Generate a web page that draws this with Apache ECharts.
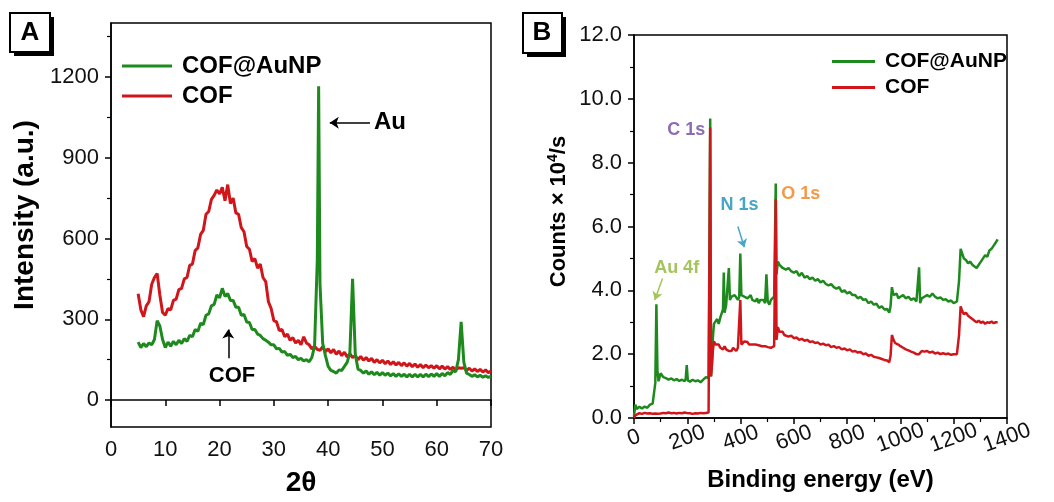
<!DOCTYPE html>
<html>
<head>
<meta charset="utf-8">
<script src="https://cdn.jsdelivr.net/npm/echarts@6/dist/echarts.min.js"></script>
<style>
  html, body { margin: 0; padding: 0; background: #fff; }
  #chart { width: 1054px; height: 502px; }
</style>
</head>
<body>
<div id="chart"></div>
<script>
// panel A: XRD, 2theta vs intensity
const theta = [
  5, 5.5, 6, 6.5, 7, 7.5, 8, 8.5, 9, 9.5,
  10, 10.5, 11, 11.5, 12, 12.5, 13, 13.5, 14, 14.5,
  15, 15.5, 16, 16.5, 17, 17.5, 18, 18.5, 19, 19.5,
  20, 20.5, 21, 21.5, 22, 22.5, 23, 23.5, 24, 24.5,
  25, 25.5, 26, 26.5, 27, 27.5, 28, 28.5, 29, 29.5,
  30, 30.5, 31, 31.5, 32, 32.5, 33, 33.5, 34, 34.5,
  35, 35.5, 36, 36.5, 37, 37.5, 38, 38.25, 38.5, 39, 39.5,
  40, 40.5, 41, 41.5, 42, 42.5, 43, 43.5, 44, 44.5,
  45, 45.5, 46, 46.5, 47, 47.5, 48, 48.5, 49, 49.5,
  50, 50.5, 51, 51.5, 52, 52.5, 53, 53.5, 54, 54.5,
  55, 55.5, 56, 56.5, 57, 57.5, 58, 58.5, 59, 59.5,
  60, 60.5, 61, 61.5, 62, 62.5, 63, 63.5, 64, 64.5,
  65, 65.5, 66, 66.5, 67, 67.5, 68, 68.5, 69, 69.5,
  70
]
const xrdCOF = [
  395, 335, 310, 350, 365, 430, 455, 470, 390, 325,
  315, 340, 335, 370, 375, 410, 415, 450, 455, 500,
  505, 555, 565, 615, 630, 690, 700, 745, 760, 780,
  765, 790, 740, 800, 730, 750, 695, 690, 640, 625,
  570, 560, 515, 525, 490, 505, 455, 440, 365, 340,
  295, 290, 258, 262, 235, 245, 222, 232, 212, 222,
  205, 235, 212, 205, 190, 200, 188, 195, 185, 198, 180,
  190, 175, 188, 170, 182, 165, 178, 160, 172, 158,
  165, 150, 162, 148, 158, 145, 155, 140, 150, 138,
  148, 135, 145, 132, 142, 130, 140, 128, 138, 126,
  136, 124, 134, 122, 132, 120, 130, 120, 128, 118,
  128, 116, 126, 115, 124, 114, 122, 112, 120, 118,
  120, 110, 118, 108, 116, 106, 114, 104, 112, 102,
  108
]
const xrdAuNP = [
  215, 195, 210, 198, 212, 205, 225, 295, 275, 225,
  195, 215, 200, 218, 205, 222, 210, 228, 218, 240,
  235, 262, 255, 285, 280, 315, 320, 350, 355, 390,
  380, 415, 385, 395, 370, 370, 345, 345, 315, 318,
  290, 288, 262, 262, 245, 240, 228, 222, 215, 205,
  205, 190, 192, 178, 180, 166, 170, 158, 162, 150,
  155, 145, 150, 142, 158, 200, 520, 1165, 430, 210, 165,
  125, 110, 106, 100, 112, 110, 125, 140, 175, 450,
  170, 115, 110, 100, 108, 96, 105, 94, 103, 92,
  102, 92, 100, 90, 98, 88, 97, 88, 96, 86,
  96, 86, 95, 86, 95, 86, 96, 87, 97, 88,
  98, 88, 99, 90, 102, 95, 110, 105, 150, 290,
  140, 100, 95, 88, 94, 86, 92, 85, 90, 84,
  88
]
const xrdLabels = [0, 300, 600, 900, 1200]
const xrdMinor = [150, 450, 750, 1050, 1350]

// panel B: XPS survey
const energy = [
  0, 5, 10, 20, 30, 40, 50, 60, 70, 76, 80, 84, 88, 92, 100, 110, 120, 130, 140, 150,
  160, 170, 180, 190, 194, 198, 202, 210, 220, 230, 240, 250, 260, 270, 280, 283, 286, 289, 292, 296,
  300, 306, 312, 318, 324, 330, 334, 337, 340, 346, 352, 356, 360, 366, 372, 378, 384, 390, 395, 399,
  403, 408, 414, 420, 426, 432, 438, 444, 450, 456, 462, 468, 474, 480, 486, 492, 497, 502, 508, 514,
  520, 526, 529, 532, 535, 540, 546, 552, 558, 564, 570, 580, 590, 600, 610, 620, 630, 640, 650, 660,
  670, 680, 690, 700, 710, 720, 730, 740, 750, 760, 770, 780, 790, 800, 810, 820, 830, 840, 850, 860,
  870, 880, 890, 900, 910, 920, 930, 940, 950, 958, 963, 968, 974, 980, 986, 992, 1000, 1010, 1020, 1030,
  1040, 1050, 1060, 1066, 1070, 1074, 1080, 1090, 1100, 1110, 1120, 1130, 1140, 1150, 1160, 1170, 1180, 1190, 1200, 1212,
  1220, 1226, 1232, 1238, 1246, 1254, 1262, 1270, 1278, 1286, 1294, 1302, 1310, 1318, 1326, 1334, 1342, 1350, 1358, 1365
]
const xpsAuNP = [
  0.05, 0.42, 0.28, 0.35, 0.30, 0.36, 0.32, 0.42, 0.45, 0.50, 1.1, 3.56, 1.5, 1.15, 1.40, 1.28, 1.25, 1.20, 1.24, 1.18,
  1.22, 1.16, 1.20, 1.15, 1.22, 1.66, 1.18, 1.14, 1.20, 1.15, 1.18, 1.12, 1.20, 1.28, 1.25, 1.3, 9.38, 1.3, 1.6, 2.5,
  2.95, 3.0, 3.1, 2.95, 3.15, 3.3, 3.4, 4.56, 3.3, 3.55, 3.6, 4.7, 3.7, 3.8, 3.75, 3.85, 3.8, 3.7, 3.8, 5.15,
  3.85, 3.9, 3.8, 3.85, 3.75, 3.8, 3.85, 3.7, 3.75, 3.65, 3.75, 3.6, 3.7, 3.65, 3.7, 3.6, 4.5, 3.65, 3.55, 3.7,
  3.65, 3.8, 3.85, 7.35, 4.5, 4.9, 4.8, 4.85, 4.7, 4.75, 4.65, 4.7, 4.6, 4.55, 4.6, 4.45, 4.55, 4.4, 4.45, 4.35,
  4.4, 4.3, 4.35, 4.25, 4.3, 4.2, 4.15, 4.2, 4.1, 4.05, 4.1, 3.95, 4.0, 3.9, 3.95, 3.85, 3.85, 3.75, 3.8, 3.7,
  3.72, 3.6, 3.65, 3.55, 3.58, 3.45, 3.5, 3.4, 3.42, 3.3, 3.5, 4.1, 3.85, 3.8, 3.9, 3.75, 3.8, 3.85, 3.75, 3.8,
  3.7, 3.75, 3.65, 3.6, 4.72, 3.6, 3.75, 3.8, 3.85, 3.8, 3.9, 3.8, 3.75, 3.78, 3.7, 3.72, 3.65, 3.68, 3.6, 3.65,
  4.3, 5.3, 5.15, 5.0, 4.95, 4.85, 4.9, 4.8, 4.75, 4.7, 4.8, 4.9, 5.0, 5.1, 5.05, 5.25, 5.3, 5.4, 5.5, 5.6
]
const xpsCOF = [
  0.0, 0.08, 0.12, 0.15, 0.13, 0.16, 0.14, 0.15, 0.13, 0.15, 0.14, 0.16, 0.13, 0.15, 0.14, 0.16, 0.15, 0.17, 0.15, 0.16,
  0.14, 0.16, 0.15, 0.17, 0.15, 0.16, 0.14, 0.15, 0.13, 0.15, 0.14, 0.16, 0.15, 0.16, 0.17, 0.2, 9.1, 1.3, 1.6, 2.1,
  2.4, 2.3, 2.25, 2.3, 2.2, 2.25, 2.15, 2.2, 2.25, 2.15, 2.2, 2.1, 2.15, 2.1, 2.2, 2.15, 2.1, 2.2, 2.15, 3.7,
  2.3, 2.35, 2.4, 2.35, 2.38, 2.3, 2.35, 2.3, 2.28, 2.3, 2.25, 2.28, 2.22, 2.25, 2.2, 2.25, 2.2, 2.22, 2.18, 2.2,
  2.15, 2.25, 2.3, 6.85, 2.45, 2.85, 2.7, 2.65, 2.7, 2.6, 2.62, 2.55, 2.58, 2.5, 2.52, 2.45, 2.48, 2.42, 2.45, 2.38,
  2.4, 2.35, 2.37, 2.3, 2.33, 2.28, 2.3, 2.22, 2.25, 2.2, 2.22, 2.15, 2.18, 2.12, 2.15, 2.08, 2.1, 2.05, 2.07, 2.0,
  2.02, 1.95, 1.98, 1.92, 1.9, 1.88, 1.85, 1.82, 1.8, 1.75, 1.95, 2.6, 2.45, 2.35, 2.4, 2.3, 2.25, 2.2, 2.15, 2.12,
  2.08, 2.05, 2.0, 2.02, 2.0, 2.05, 2.1, 2.08, 2.1, 2.05, 2.08, 2.02, 2.05, 2.0, 2.03, 2.0, 2.02, 1.98, 2.0, 2.0,
  2.6, 3.5, 3.35, 3.25, 3.3, 3.2, 3.15, 3.1, 3.05, 3.0, 3.05, 2.98, 3.02, 2.95, 3.0, 2.98, 3.02, 2.97, 3.0, 3.0
]

const GREEN = '#1e8a1e'
const RED = '#d0161b'
const FONT = 'Liberation Sans, Arial, sans-serif'

const pairs = (xs, ys) => xs.map((x, i) => [x, ys[i]])

// transparent anchor so a markPoint only shows its label
const textMark = (coord, text, color, size) => ({
  coord: coord,
  symbol: 'rect',
  symbolSize: 1,
  itemStyle: { color: 'rgba(0,0,0,0)' },
  label: {
    show: true, position: 'inside', formatter: text,
    color: color, fontSize: size, fontWeight: 'bold', fontFamily: FONT
  }
})
const arrow = (from, to, color) => [{ coord: from }, { coord: to, lineStyle: { color: color } }]

const axisCommon = {
  axisLine: { show: true, lineStyle: { color: '#000', width: 1.5 } },
  axisTick: { show: true, length: 6, lineStyle: { color: '#000', width: 1.5 } },
  splitLine: { show: false },
  axisLabel: { color: '#111', fontSize: 22, fontFamily: FONT, formatter: v => String(v) }
}

const chart = echarts.init(document.getElementById('chart'), null, { renderer: 'canvas' })

chart.setOption({
  animation: false,
  backgroundColor: '#fff',
  textStyle: { fontFamily: FONT },
  grid: [
    { left: 111, right: 563, top: 23, bottom: 72, show: true, borderColor: '#000', borderWidth: 1.5 },
    { left: 634, right: 47, top: 35, bottom: 84, show: true, borderColor: '#000', borderWidth: 1.5 }
  ],
  legend: [
    {
      data: ['COF@AuNP', 'COF'], orient: 'vertical', left: 117, top: 49, itemGap: 6,
      icon: 'rect', itemWidth: 50, itemHeight: 3,
      textStyle: { fontSize: 24, fontWeight: 'bold', color: '#000', padding: [0, 0, 0, 5] }
    },
    {
      data: ['COF@AuNP', 'COF'], orient: 'vertical', left: 827, top: 46, itemGap: 5,
      icon: 'rect', itemWidth: 43, itemHeight: 3,
      textStyle: { fontSize: 21, fontWeight: 'bold', color: '#000', padding: [0, 0, 0, 5] }
    }
  ],
  xAxis: [
    {
      ...axisCommon, gridIndex: 0, type: 'value', min: 0, max: 70, interval: 10,
      name: '2θ', nameLocation: 'middle', nameGap: 42,
      nameTextStyle: { fontSize: 28, fontWeight: 'bold', color: '#000' },
      axisLabel: { ...axisCommon.axisLabel, margin: 12 }
    },
    {
      ...axisCommon, gridIndex: 1, type: 'value', min: 0, max: 1400, interval: 200,
      minorTick: { show: true, splitNumber: 2, length: 4, lineStyle: { color: '#000', width: 1.2 } },
      name: 'Binding energy (eV)', nameLocation: 'middle', nameGap: 50,
      nameTextStyle: { fontSize: 24, fontWeight: 'bold', color: '#000' },
      axisLabel: {
        ...axisCommon.axisLabel, rotate: 20, align: 'center', verticalAlign: 'middle', margin: 20,
        showMaxLabel: true, showMinLabel: true, hideOverlap: false
      }
    }
  ],
  yAxis: [
    {
      ...axisCommon, gridIndex: 0, type: 'value', min: -100, max: 1400,
      name: 'Intensity (a.u.)', nameLocation: 'middle', nameGap: 72,
      nameTextStyle: { fontSize: 28, fontWeight: 'bold', color: '#000', padding: [0, 0, 0, 20] },
      axisTick: { ...axisCommon.axisTick, customValues: xrdLabels },
      axisLabel: { ...axisCommon.axisLabel, margin: 12, customValues: xrdLabels }
    },
    {
      // only the small ticks between the labelled ones
      gridIndex: 0, type: 'value', min: -100, max: 1400, position: 'left',
      axisLine: { show: false }, axisLabel: { show: false }, splitLine: { show: false },
      axisTick: { show: true, length: 4, customValues: xrdMinor, lineStyle: { color: '#000', width: 1.2 } }
    },
    {
      ...axisCommon, gridIndex: 1, type: 'value', min: 0, max: 12, interval: 2,
      minorTick: { show: true, splitNumber: 2, length: 4, lineStyle: { color: '#000', width: 1.2 } },
      name: '{a|Counts × 10}{b|4}{a|/s}', nameLocation: 'middle', nameGap: 62,
      nameTextStyle: {
        padding: [0, 0, 0, 30],
        rich: {
          a: { fontSize: 22, fontWeight: 'bold', color: '#000', fontFamily: FONT },
          b: { fontSize: 14, fontWeight: 'bold', color: '#000', fontFamily: FONT, padding: [0, 0, 12, 0] }
        }
      },
      axisLabel: { ...axisCommon.axisLabel, margin: 12, formatter: v => v.toFixed(1) }
    }
  ],
  series: [
    {
      name: 'COF', type: 'line', xAxisIndex: 0, yAxisIndex: 0, symbol: 'none',
      data: pairs(theta, xrdCOF), lineStyle: { color: RED, width: 3 }, itemStyle: { color: RED }
    },
    {
      name: 'COF@AuNP', type: 'line', xAxisIndex: 0, yAxisIndex: 0, symbol: 'none',
      data: pairs(theta, xrdAuNP), lineStyle: { color: GREEN, width: 3 }, itemStyle: { color: GREEN },
      markLine: {
        silent: true, symbol: ['none', 'arrow'], symbolSize: 9,
        lineStyle: { color: '#000', width: 1.5, type: 'solid' }, label: { show: false },
        data: [arrow([47.7, 1030], [40.3, 1030], '#000'), arrow([21.6, 155], [21.6, 262], '#000')]
      },
      markPoint: {
        silent: true,
        data: [textMark([51.4, 1030], 'Au', '#000', 24), textMark([22.3, 89], 'COF', '#000', 22)]
      }
    },
    {
      name: 'COF@AuNP', type: 'line', xAxisIndex: 1, yAxisIndex: 2, symbol: 'none',
      data: pairs(energy, xpsAuNP), lineStyle: { color: GREEN, width: 2.5 }, itemStyle: { color: GREEN },
      markLine: {
        silent: true, symbol: ['none', 'arrow'], symbolSize: 8,
        lineStyle: { width: 1.5, type: 'solid' }, label: { show: false },
        data: [arrow([390, 6.0], [414, 5.35], '#4aa6c8'), arrow([107, 4.37], [78, 3.7], '#a3c55a')]
      },
      markPoint: {
        silent: true,
        data: [
          textMark([196, 9.03], 'C 1s', '#8a6cb4', 18),
          textMark([396, 6.66], 'N 1s', '#46a5c8', 18),
          textMark([626, 7.03], 'O 1s', '#f29a4a', 18),
          textMark([160, 4.69], 'Au 4f', '#a3c55a', 18)
        ]
      }
    },
    {
      name: 'COF', type: 'line', xAxisIndex: 1, yAxisIndex: 2, symbol: 'none',
      data: pairs(energy, xpsCOF), lineStyle: { color: RED, width: 2.5 }, itemStyle: { color: RED }
    }
  ],
  graphic: [
    { type: 'rect', shape: { x: 14, y: 17, width: 40, height: 39 }, style: { fill: '#000' } },
    { type: 'rect', shape: { x: 10, y: 13, width: 40, height: 39 }, style: { fill: '#fff', stroke: '#000', lineWidth: 2 } },
    { type: 'text', x: 30, y: 33, style: { text: 'A', fontSize: 26, fontWeight: 'bold', fontFamily: FONT, fill: '#000', align: 'center', verticalAlign: 'middle' } },
    { type: 'rect', shape: { x: 527, y: 17, width: 39, height: 40 }, style: { fill: '#000' } },
    { type: 'rect', shape: { x: 523, y: 13, width: 39, height: 40 }, style: { fill: '#fff', stroke: '#000', lineWidth: 2 } },
    { type: 'text', x: 542, y: 33, style: { text: 'B', fontSize: 26, fontWeight: 'bold', fontFamily: FONT, fill: '#000', align: 'center', verticalAlign: 'middle' } }
  ]
})
</script>
</body>
</html>
